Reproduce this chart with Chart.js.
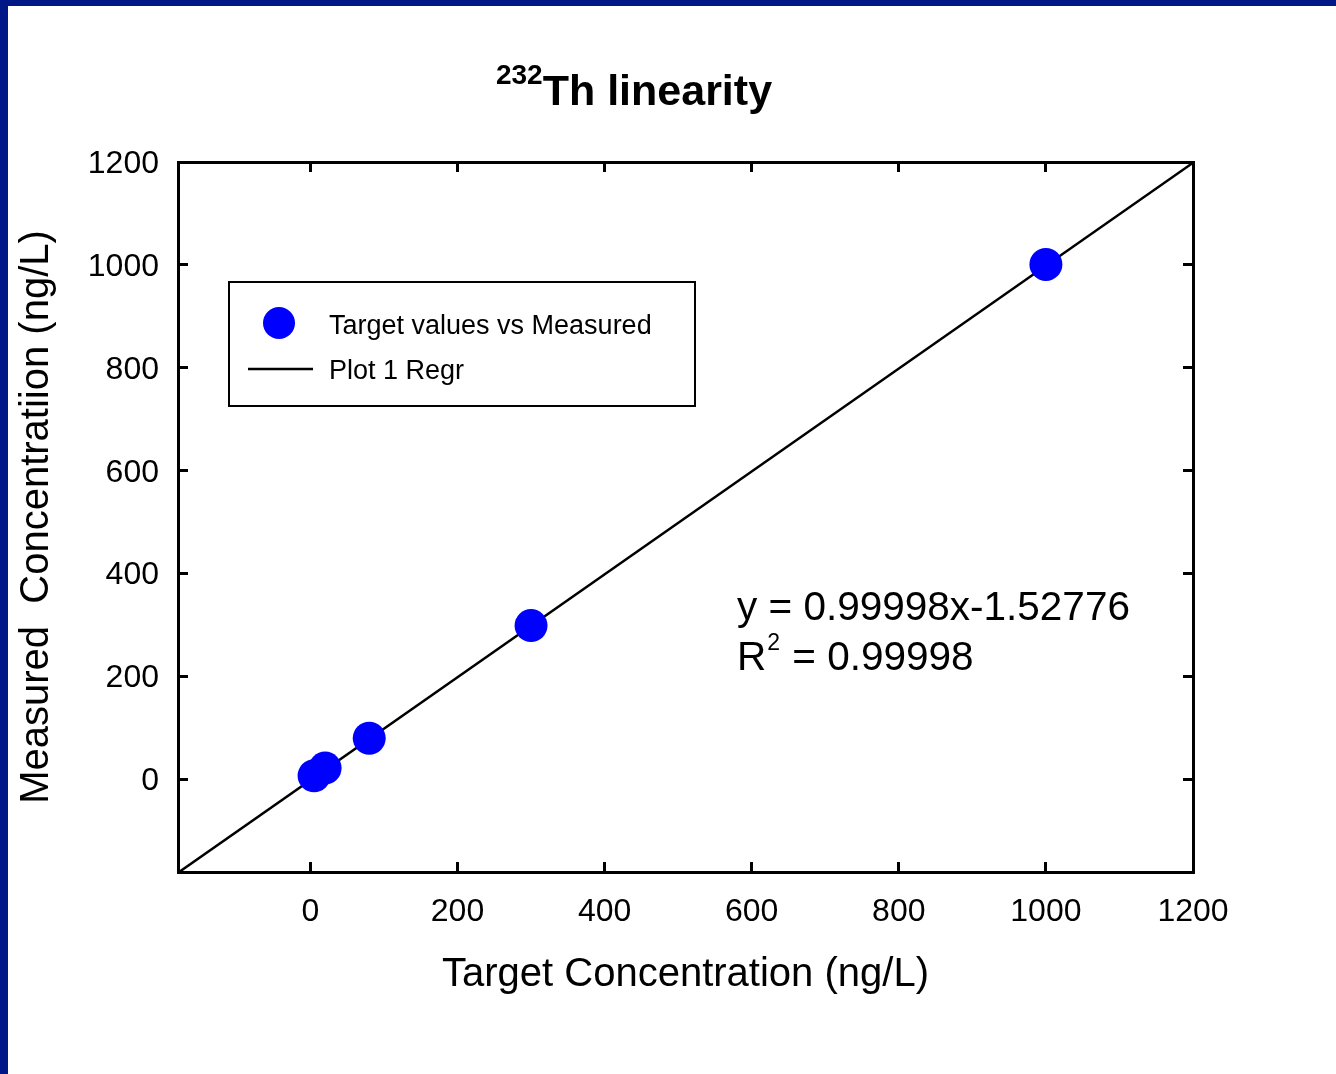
<!DOCTYPE html>
<html>
<head>
<meta charset="utf-8">
<script src="https://cdn.jsdelivr.net/npm/chart.js@4/dist/chart.umd.min.js"></script>
<style>
  html, body { margin: 0; padding: 0; background: #ffffff; overflow: hidden; }
  #grafico { position: absolute; left: 0; top: 0; }
  .faixaTopo { position: absolute; left: 0; top: 0; width: 1336px; height: 6px; background: #001887; }
  .faixaEsq { position: absolute; left: 0; top: 0; width: 8px; height: 1074px; background: #001887; }
</style>
</head>
<body>
<canvas id="grafico" width="1336" height="1074"></canvas>
<div class="faixaTopo"></div>
<div class="faixaEsq"></div>
<script>
// dados
var alvoX = [5, 20, 80, 300, 1000];
var medidoY = [7, 22, 80, 299, 1001];
var regrX = [-180, 1200];
var regrY = [-181.5, 1198.4];
var valoresTicks = [0, 200, 400, 600, 800, 1000, 1200];
var eixoMin = -180;
var eixoMax = 1200;

var fonte = "'Liberation Sans', Arial, Helvetica, sans-serif";
Chart.defaults.font.family = fonte;
Chart.defaults.color = '#000';

function montarPontos(xs, ys) {
    var pts = [];
    for (var i = 0; i < xs.length; i++) {
        pts.push({ x: xs[i], y: ys[i] });
    }
    return pts;
}

function fixarTicks(scale) {
    scale.ticks = valoresTicks.map(function (v) { return { value: v }; });
}

function rotuloSimples(v) {
    return String(v);
}

// titulo com sobrescrito
var pluginTitulo = {
    id: 'titulo',
    afterDraw: function (chart) {
        var ctx = chart.ctx;
        ctx.save();
        ctx.fillStyle = '#000';
        ctx.textBaseline = 'alphabetic';
        ctx.textAlign = 'left';
        ctx.font = 'bold 28px ' + fonte;
        var sup = '232';
        var wSup = ctx.measureText(sup).width;
        ctx.font = 'bold 43px ' + fonte;
        var resto = 'Th linearity';
        var wResto = ctx.measureText(resto).width;
        var x0 = 634 - (wSup + wResto) / 2;
        ctx.font = 'bold 28px ' + fonte;
        ctx.fillText(sup, x0, 84);
        ctx.font = 'bold 43px ' + fonte;
        ctx.fillText(resto, x0 + wSup, 105);
        ctx.restore();
    }
};

// legenda em caixa dentro da area do grafico
var pluginLegenda = {
    id: 'legendaCaixa',
    afterDraw: function (chart) {
        var ctx = chart.ctx;
        var ds = chart.data.datasets;
        ctx.save();
        ctx.strokeStyle = '#000';
        ctx.lineWidth = 2;
        ctx.strokeRect(229, 282, 466, 124);

        ctx.beginPath();
        ctx.fillStyle = ds[0].backgroundColor;
        ctx.arc(279, 323, 16, 0, Math.PI * 2);
        ctx.fill();

        ctx.beginPath();
        ctx.strokeStyle = ds[1].borderColor;
        ctx.lineWidth = 2.5;
        ctx.moveTo(248, 369);
        ctx.lineTo(313, 369);
        ctx.stroke();

        ctx.fillStyle = '#000';
        ctx.font = '27px ' + fonte;
        ctx.textBaseline = 'middle';
        ctx.textAlign = 'left';
        ctx.fillText(ds[0].label, 329, 327);
        ctx.fillText(ds[1].label, 329, 372);
        ctx.restore();
    }
};

// equacao da regressao
var pluginEquacao = {
    id: 'equacao',
    afterDraw: function (chart) {
        var ctx = chart.ctx;
        ctx.save();
        ctx.fillStyle = '#000';
        ctx.textBaseline = 'alphabetic';
        ctx.textAlign = 'left';
        ctx.font = '40.5px ' + fonte;
        ctx.fillText('y = 0.99998x-1.52776', 737, 620);
        ctx.fillText('R', 737, 670);
        var wR = ctx.measureText('R').width;
        ctx.font = '23px ' + fonte;
        ctx.fillText('2', 737 + wR + 1, 650);
        var w2 = ctx.measureText('2').width;
        ctx.font = '40.5px ' + fonte;
        ctx.fillText(' = 0.99998', 737 + wR + w2 + 2, 670);
        ctx.restore();
    }
};

var eixoBase = {
    type: 'linear',
    min: eixoMin,
    max: eixoMax,
    afterBuildTicks: fixarTicks,
    border: { display: true, color: '#000', width: 3 },
    grid: {
        drawOnChartArea: false,
        drawTicks: true,
        tickLength: -10,
        tickWidth: 3,
        tickColor: '#000'
    }
};

function criarGrafico() {
    var contexto = document.getElementById('grafico').getContext('2d');
    new Chart(contexto, {
        type: 'scatter',
        data: {
            datasets: [{
                label: 'Target values vs Measured',
                data: montarPontos(alvoX, medidoY),
                backgroundColor: '#0000ff',
                borderColor: '#0000ff',
                pointRadius: 16.5,
                pointHoverRadius: 16.5,
                pointBorderWidth: 0
            }, {
                label: 'Plot 1 Regr',
                type: 'line',
                data: montarPontos(regrX, regrY),
                borderColor: '#000',
                borderWidth: 2.5,
                pointRadius: 0,
                fill: false
            }]
        },
        options: {
            responsive: false,
            animation: false,
            events: [],
            layout: { padding: 0 },
            plugins: {
                legend: { display: false },
                title: { display: false },
                tooltip: { enabled: false }
            },
            scales: {
                x: Object.assign({}, eixoBase, {
                    position: 'bottom',
                    ticks: { font: { size: 32 }, padding: 31, color: '#000', maxRotation: 0, callback: rotuloSimples },
                    title: {
                        display: true,
                        text: 'Target Concentration (ng/L)',
                        font: { size: 40 },
                        color: '#000',
                        padding: { top: 0, bottom: 75 }
                    },
                    afterFit: function (s) { s.height = 202; }
                }),
                x2: Object.assign({}, eixoBase, {
                    position: 'top',
                    ticks: { display: false },
                    afterFit: function (s) { s.height = 162; }
                }),
                y: Object.assign({}, eixoBase, {
                    position: 'left',
                    ticks: { font: { size: 32 }, padding: 29, color: '#000', labelOffset: 2, callback: rotuloSimples },
                    title: {
                        display: true,
                        text: 'Measured  Concentratiion (ng/L)',
                        font: { size: 40 },
                        color: '#000',
                        padding: { top: 13, bottom: 0 }
                    },
                    afterFit: function (s) { s.width = 178; }
                }),
                y2: Object.assign({}, eixoBase, {
                    position: 'right',
                    ticks: { display: false },
                    afterFit: function (s) { s.width = 143; }
                })
            }
        },
        plugins: [pluginTitulo, pluginLegenda, pluginEquacao]
    });
}

criarGrafico();
</script>
</body>
</html>
